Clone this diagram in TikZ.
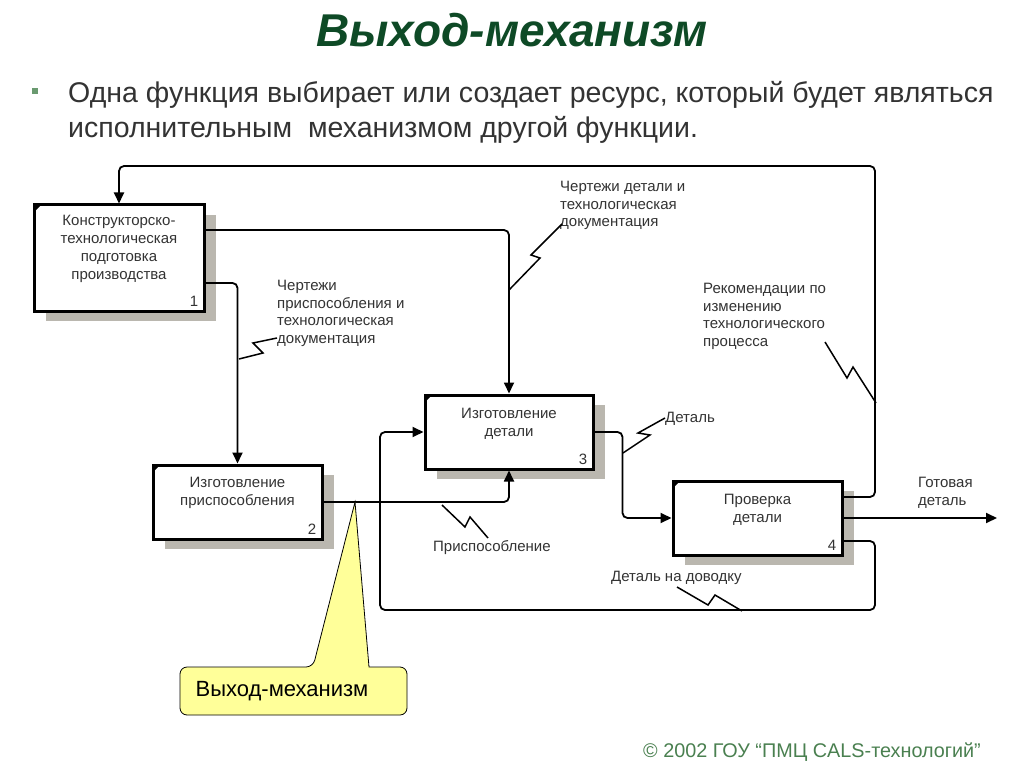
\documentclass[tikz,border=0pt]{standalone}
\usepackage{fontspec}
\setmainfont{Liberation Sans}
\usetikzlibrary{shadows,arrows.meta,calc}
\definecolor{titlegreen}{HTML}{0E4A26}
\definecolor{footgreen}{HTML}{4A8050}
\definecolor{bulletgreen}{HTML}{6A9A70}
\definecolor{shadowgray}{HTML}{BAB7AF}
\definecolor{calloutyellow}{HTML}{FFFF99}
\definecolor{txtgray}{HTML}{333333}
\begin{document}
\begin{tikzpicture}[x=1pt,y=-1pt,
  fbox/.style={draw=black, line width=3pt, fill=white, inner sep=0pt,
    drop shadow={shadow xshift=12pt, shadow yshift=-10pt, fill=shadowgray, opacity=1}},
  btxt/.style={font=\fontsize{15}{18}\selectfont, align=center, text=txtgray, anchor=north, inner sep=0pt},
  num/.style={font=\fontsize{15}{15}\selectfont, text=txtgray, anchor=south east, inner sep=0pt},
  lbl/.style={font=\fontsize{15}{17.6}\selectfont, align=left, text=txtgray, anchor=north west, inner sep=0pt},
  conn/.style={line width=1.8pt, rounded corners=5pt},
  arr/.style={-{Triangle[length=11pt,width=10pt]}},
  bolt/.style={line width=1.5pt, line join=miter}
]
\useasboundingbox (0,0) rectangle (1024,767);
\fill[white] (0,0) rectangle (1024,767);

% title
\node[font=\fontsize{46}{52}\selectfont\bfseries\itshape, text=titlegreen] (title) at (512,30) {Выход-механизм};

% bullet and text
\node[fill=bulletgreen, minimum size=6pt, inner sep=0pt] (bullet) at (35,91) {};
\node[font=\fontsize{28.5}{35}\selectfont, text=txtgray, align=left, anchor=base west, inner sep=0pt] (sub) at (68,138)
  {Одна функция выбирает или создает ресурс, который будет являться\\исполнительным\ \ механизмом другой функции.};

% boxes
\node[fbox, minimum width=170pt, minimum height=106pt] (b1) at (119,258) {};
\node[fbox, minimum width=169pt, minimum height=74pt] (b2) at (237.5,502) {};
\node[fbox, minimum width=168pt, minimum height=74pt] (b3) at (509,432) {};
\node[fbox, minimum width=169pt, minimum height=74pt] (b4) at (757.5,518) {};

\foreach \b in {b1,b2,b3,b4}{
  \fill ($(\b.north west)+(1,1)$) -- ++(8,0) -- ++(-8,8) -- cycle;
}

\node[btxt] (b1t) at ($(b1.north)+(0,11)$) {Конструкторско-\\технологическая\\подготовка\\производства};
\node[btxt] (b2t) at ($(b2.north)+(0,13)$) {Изготовление\\приспособления};
\node[btxt] (b3t) at ($(b3.north)+(0,14)$) {Изготовление\\детали};
\node[btxt] (b4t) at ($(b4.north)+(0,14)$) {Проверка\\детали};
\node[num] (n1) at ($(b1.south east)+(-7,-6)$) {1};
\node[num] (n2) at ($(b2.south east)+(-7,-6)$) {2};
\node[num] (n3) at ($(b3.south east)+(-7,-6)$) {3};
\node[num] (n4) at ($(b4.south east)+(-7,-6)$) {4};

% connectors
\draw[conn,arr] ([yshift=21pt]b4.east) -| (875,166) -| (b1.north);
\draw[conn,arr] ([yshift=28pt]b1.east) -| (b3.north);
\draw[conn,arr] ([yshift=-25pt]b1.east) -| (b2.north);
\draw[conn,arr] (b2.east) -| (b3.south);
\draw[conn,arr] (b3.east) -- ++(28,0) |- (b4.west);
\coordinate (out) at (997,518);
\draw[conn,arr] (b4.east) -- (out);
\draw[conn,arr] ([yshift=-23pt]b4.east) -| (875,610) -| (380,432) -- (b3.west);

% labels
\node[lbl] (l1) at (560,181) {Чертежи детали и\\технологическая\\документация};
\node[lbl] (l2) at (277,280) {Чертежи\\приспособления и\\технологическая\\документация};
\node[lbl] (l3) at (433,540) {Приспособление};
\node[lbl, anchor=west] (l4) at (665,419) {Деталь};
\node[lbl] (l5) at (703,283) {Рекомендации по\\изменению\\технологического\\процесса};
\node[lbl] (l6) at (918,477) {Готовая\\деталь};
\node[lbl, anchor=west] (l7) at (611,578) {Деталь на доводку};

% bolts
\draw[bolt] (509,290) -- (540,258) -- (531,255) -- (562,224);
\draw[bolt] (239,359) -- (263,353) -- (253,343) -- (277,338);
\draw[bolt] (442,505) -- (465,527) -- (470,517) -- (488,538);
\draw[bolt] (623,453) -- (650,435) -- (638,433) -- (665,418);
\draw[bolt] (876,403) -- (853,367) -- (847,378) -- (825,342);
\draw[bolt] (742,611) -- (715,595) -- (708,605) -- (677,587);

% callout
\coordinate (tip) at (355,502);
\draw[fill=calloutyellow, line width=0.8pt] (180,691) [rounded corners=7pt] -- (180,667) -- (313,667) [sharp corners] -- (tip) -- (369,667) [rounded corners=7pt] -- (407,667) -- (407,715) -- (180,715) -- cycle;
\node[font=\fontsize{22}{26}\selectfont, inner sep=0pt] (co) at (282,691) {Выход-механизм};

% footer
\node[font=\fontsize{19.8}{22}\selectfont, text=footgreen, anchor=east, inner sep=0pt] (foot) at (981,752) {© 2002 ГОУ “ПМЦ CALS-технологий”};
\end{tikzpicture}
\end{document}
